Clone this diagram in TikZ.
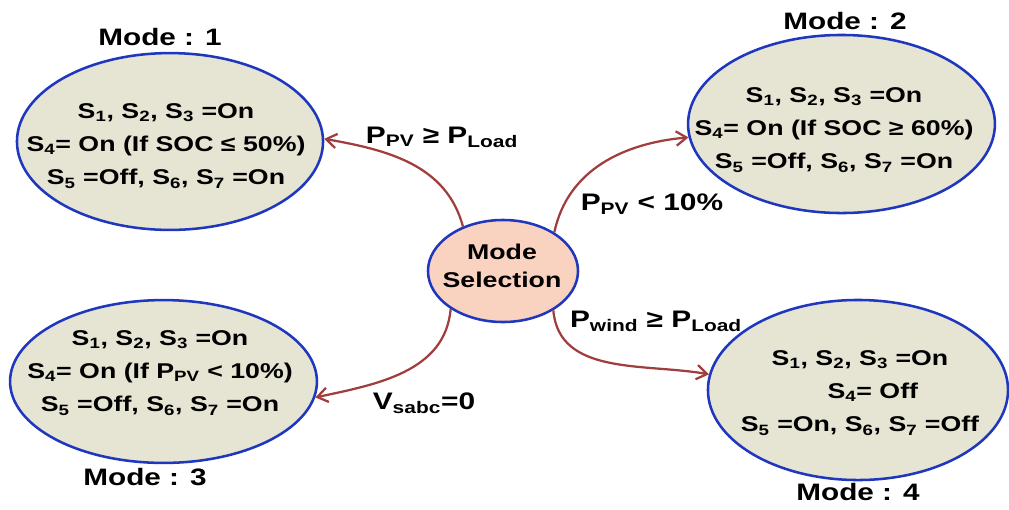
\documentclass[tikz,border=0pt]{standalone}
\usepackage{fontspec}
\setmainfont{Liberation Sans}[FakeStretch=1.25]
\usetikzlibrary{shapes.geometric, arrows.meta}

\definecolor{modefill}{RGB}{230,228,210}
\definecolor{selfill}{RGB}{250,210,192}
\definecolor{rimblue}{RGB}{30,55,190}
\definecolor{flowred}{RGB}{160,62,62}

\newcommand{\lo}[1]{\textsubscript{#1}}

\begin{document}
\begin{tikzpicture}[x=0.025cm, y=-0.025cm,
    modebox/.style={ellipse, draw=rimblue, line width=1.8pt, fill=modefill, inner sep=0pt},
    selbox/.style={ellipse, draw=rimblue, line width=1.8pt, fill=selfill, inner sep=0pt,
        minimum width=3.75cm, minimum height=2.55cm},
    modetext/.style={align=center, font=\bfseries\fontsize{15.2}{23.6}\selectfont},
    modetitle/.style={font=\bfseries\fontsize{16.9}{20}\selectfont},
    cond/.style={font=\bfseries\fontsize{17}{20}\selectfont},
    flow/.style={draw=flowred, line width=1.6pt, -{Straight Barb[length=2.6mm, width=3.6mm]}}]
    \useasboundingbox (0,0) rectangle (1009,509);

    % Draw nodes
    \node[modebox, minimum width=7.65cm, minimum height=4.42cm] (m1) at (170,141.5) {};
    \node[modebox, minimum width=7.67cm, minimum height=4.45cm] (m2) at (841.5,124) {};
    \node[modebox, minimum width=7.67cm, minimum height=4.07cm] (m3) at (163.5,381.5) {};
    \node[modebox, minimum width=7.5cm, minimum height=4.5cm] (m4) at (858,390) {};
    \node[selbox] (sel) at (503,271) {};

    % Texts inside
    \node[modetext] (t1) at (166,146) {S\lo{1}, S\lo{2}, S\lo{3} =On\\
        S\lo{4}= On (If SOC ≤ 50\%)\\ S\lo{5} =Off, S\lo{6}, S\lo{7} =On};
    \node[modetext] (t2) at (834,130) {S\lo{1}, S\lo{2}, S\lo{3} =On\\
        S\lo{4}= On (If SOC ≥ 60\%)\\ S\lo{5} =Off, S\lo{6}, S\lo{7} =On};
    \node[modetext] (t3) at (160,373) {S\lo{1}, S\lo{2}, S\lo{3} =On\\
        S\lo{4}= On (If P\lo{PV} < 10\%)\\ S\lo{5} =Off, S\lo{6}, S\lo{7} =On};
    \node[modetext] (t4) at (860,393) {S\lo{1}, S\lo{2}, S\lo{3} =On\\
        \hspace*{1.2em}S\lo{4}= Off\\ S\lo{5} =On, S\lo{6}, S\lo{7} =Off};
    \node[align=center, font=\bfseries\fontsize{15.2}{20}\selectfont] (tsel) at (502,266) {Mode\\ Selection};

    % Draw connections
    \draw[flow] (sel.132) to[out=105, in=-10] (m1.1);
    \draw[flow] (sel.37) to[out=78, in=185] (m2.185);
    \draw[flow] (sel.216) to[out=-95, in=12] (m3.-6);
    \draw[flow] (sel.-38) to[out=-85, in=170] (m4.174);

    % Labels
    \node[modetitle] (l1) at (160,37) {Mode : 1};
    \node[modetitle] (l2) at (845,21) {Mode : 2};
    \node[modetitle] (l3) at (145,477) {Mode : 3};
    \node[modetitle] (l4) at (858,492) {Mode : 4};
    \node[cond] (c1) at (442,137) {P\lo{PV} ≥ P\lo{Load}};
    \node[cond] (c2) at (652,204) {P\lo{PV} < 10\%};
    \node[cond] (c3) at (656,321) {P\lo{wind} ≥ P\lo{Load}};
    \node[cond] (c4) at (424,403) {V\lo{sabc}=0};
\end{tikzpicture}
\end{document}
